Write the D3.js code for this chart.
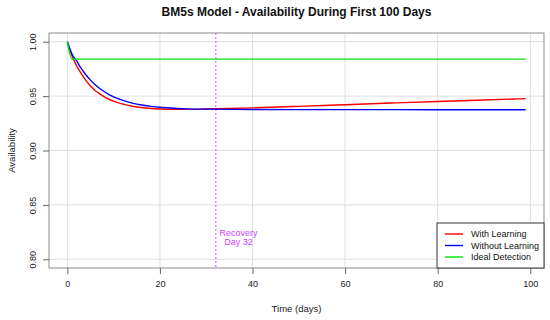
<!DOCTYPE html>
<html>
<head>
<meta charset="utf-8">
<script src="https://cdn.jsdelivr.net/npm/d3@7"></script>
<style>
    body { margin: 0; background: #fff; }
    svg { font-family: "Liberation Sans", Arial, sans-serif; }
</style>
</head>
<body>
<div id="chart"></div>
<script>
    // days sampled from the curves
    var days = [0, 1, 2, 3, 4, 5, 6, 7, 8, 9, 10, 12, 14, 16, 18, 20, 23, 26, 30, 35, 40, 50, 60, 70, 80, 90, 99];
    var withLearning = [1.0, 0.9870, 0.9778, 0.9707, 0.9645, 0.9593, 0.9552, 0.9520, 0.9493, 0.9471, 0.9453,
        0.9426, 0.9407, 0.9395, 0.9386, 0.9381, 0.9378, 0.9378, 0.9381, 0.9386, 0.9392,
        0.9406, 0.9421, 0.9436, 0.9451, 0.9464, 0.9477];
    var withoutLearning = [1.0, 0.9887, 0.9823, 0.9754, 0.9696, 0.9647, 0.9605, 0.9570, 0.9540, 0.9514, 0.9493,
        0.9460, 0.9436, 0.9418, 0.9406, 0.9397, 0.9389, 0.9383, 0.9380, 0.9378, 0.9377,
        0.9376, 0.9376, 0.9376, 0.9375, 0.9375, 0.9375];
    var idealDetection = [1.0, 0.984, 0.984, 0.984, 0.984, 0.984, 0.984, 0.984, 0.984, 0.984, 0.984,
        0.984, 0.984, 0.984, 0.984, 0.984, 0.984, 0.984, 0.984, 0.984, 0.984,
        0.984, 0.984, 0.984, 0.984, 0.984, 0.984];

    var seriesNames = ["With Learning", "Without Learning", "Ideal Detection"];
    var seriesColors = ["#ff0000", "#0000ff", "#00e600"];
    var xTicks = [0, 20, 40, 60, 80, 100];
    var yTicks = [0.80, 0.85, 0.90, 0.95, 1.00];
    var recoveryDay = 32;

    var width = 550, height = 320;
    var margin = {top: 33, right: 6, bottom: 52, left: 49};
    var innerW = width - margin.left - margin.right,
        innerH = height - margin.top - margin.bottom;

    var svg = d3.select("#chart").append("svg")
        .attr("width", width)
        .attr("height", height);

    // R style 4% padding around the data range
    var x = d3.scaleLinear().domain([-3.96, 102.96]).range([margin.left, margin.left + innerW]);
    var y = d3.scaleLinear().domain([0.792, 1.008]).range([margin.top + innerH, margin.top]);

    // grid
    svg.append("g").selectAll("line").data(xTicks).enter().append("line")
        .attr("x1", function (d) { return x(d); })
        .attr("x2", function (d) { return x(d); })
        .attr("y1", margin.top).attr("y2", margin.top + innerH)
        .attr("stroke", "#dedede").attr("stroke-width", 1);
    svg.append("g").selectAll("line").data(yTicks).enter().append("line")
        .attr("y1", function (d) { return y(d); })
        .attr("y2", function (d) { return y(d); })
        .attr("x1", margin.left).attr("x2", margin.left + innerW)
        .attr("stroke", "#dedede").attr("stroke-width", 1);

    // recovery marker
    svg.append("line")
        .attr("x1", x(recoveryDay) + 0.3).attr("x2", x(recoveryDay) + 0.3)
        .attr("y1", margin.top).attr("y2", margin.top + innerH)
        .attr("stroke", "#e27aff").attr("stroke-width", 1.3)
        .attr("stroke-dasharray", "2,2");
    var rec = svg.append("text")
        .attr("y", y(0.8212))
        .attr("text-anchor", "middle")
        .attr("font-size", "9px")
        .attr("fill", "#cc44ff");
    rec.append("tspan").attr("x", x(recoveryDay) + 23).text("Recovery");
    rec.append("tspan").attr("x", x(recoveryDay) + 23).attr("dy", "1.0em").text("Day " + recoveryDay);

    // lines
    var line = d3.line()
        .x(function (d) { return x(d[0]); })
        .y(function (d) { return y(d[1]); })
        .curve(d3.curveMonotoneX);
    [withLearning, withoutLearning, idealDetection].forEach(function (vals, i) {
        svg.append("path")
            .datum(days.map(function (d, j) { return [d, vals[j]]; }))
            .attr("fill", "none")
            .attr("stroke", seriesColors[i])
            .attr("stroke-width", 1.4)
            .attr("d", line);
    });

    // box
    svg.append("rect")
        .attr("x", margin.left).attr("y", margin.top)
        .attr("width", innerW).attr("height", innerH)
        .attr("fill", "none").attr("stroke", "#8c8c8c").attr("stroke-width", 1);

    // axes
    var xAxis = svg.append("g")
        .attr("transform", "translate(0," + (margin.top + innerH) + ")")
        .call(d3.axisBottom(x).tickValues(xTicks).tickSize(6).tickPadding(7));
    var yAxis = svg.append("g")
        .attr("transform", "translate(" + margin.left + ",0)")
        .call(d3.axisLeft(y).tickValues(yTicks).tickFormat(d3.format(".2f")).tickSize(6).tickPadding(4));
    [xAxis, yAxis].forEach(function (g) {
        g.select(".domain").remove();
        g.selectAll(".tick line").attr("stroke", "#666");
        g.selectAll("text").attr("font-size", "9px").attr("fill", "#222")
            .attr("font-family", "Liberation Sans, Arial, sans-serif");
    });
    yAxis.selectAll(".tick text")
        .attr("transform", "rotate(-90)")
        .attr("x", 0).attr("y", -13)
        .attr("dy", "0")
        .attr("text-anchor", "middle");

    // titles
    svg.append("text")
        .attr("x", x(49.5)).attr("y", 16)
        .attr("text-anchor", "middle")
        .attr("font-size", "12px").attr("font-weight", "bold")
        .attr("fill", "#111")
        .text("BM5s Model - Availability During First 100 Days");
    svg.append("text")
        .attr("x", x(49.5)).attr("y", 312)
        .attr("text-anchor", "middle")
        .attr("font-size", "9.5px").attr("fill", "#222")
        .text("Time (days)");
    svg.append("text")
        .attr("transform", "translate(15," + y(0.9) + ")rotate(-90)")
        .attr("text-anchor", "middle")
        .attr("font-size", "9.5px").attr("fill", "#222")
        .text("Availability");

    // legend
    var lx = 437, ly = 223;
    var legend = svg.append("g");
    legend.append("rect")
        .attr("x", lx).attr("y", ly)
        .attr("width", margin.left + innerW - lx).attr("height", margin.top + innerH - ly)
        .attr("fill", "#fff").attr("stroke", "#333").attr("stroke-width", 1);
    seriesNames.forEach(function (name, i) {
        var yy = ly + 11 + i * 11.5;
        legend.append("line")
            .attr("x1", lx + 8).attr("x2", lx + 26)
            .attr("y1", yy).attr("y2", yy)
            .attr("stroke", seriesColors[i]).attr("stroke-width", 1.4);
        legend.append("text")
            .attr("x", lx + 34).attr("y", yy + 3.2)
            .attr("font-size", "9px").attr("fill", "#111")
            .text(name);
    });
</script>
</body>
</html>
